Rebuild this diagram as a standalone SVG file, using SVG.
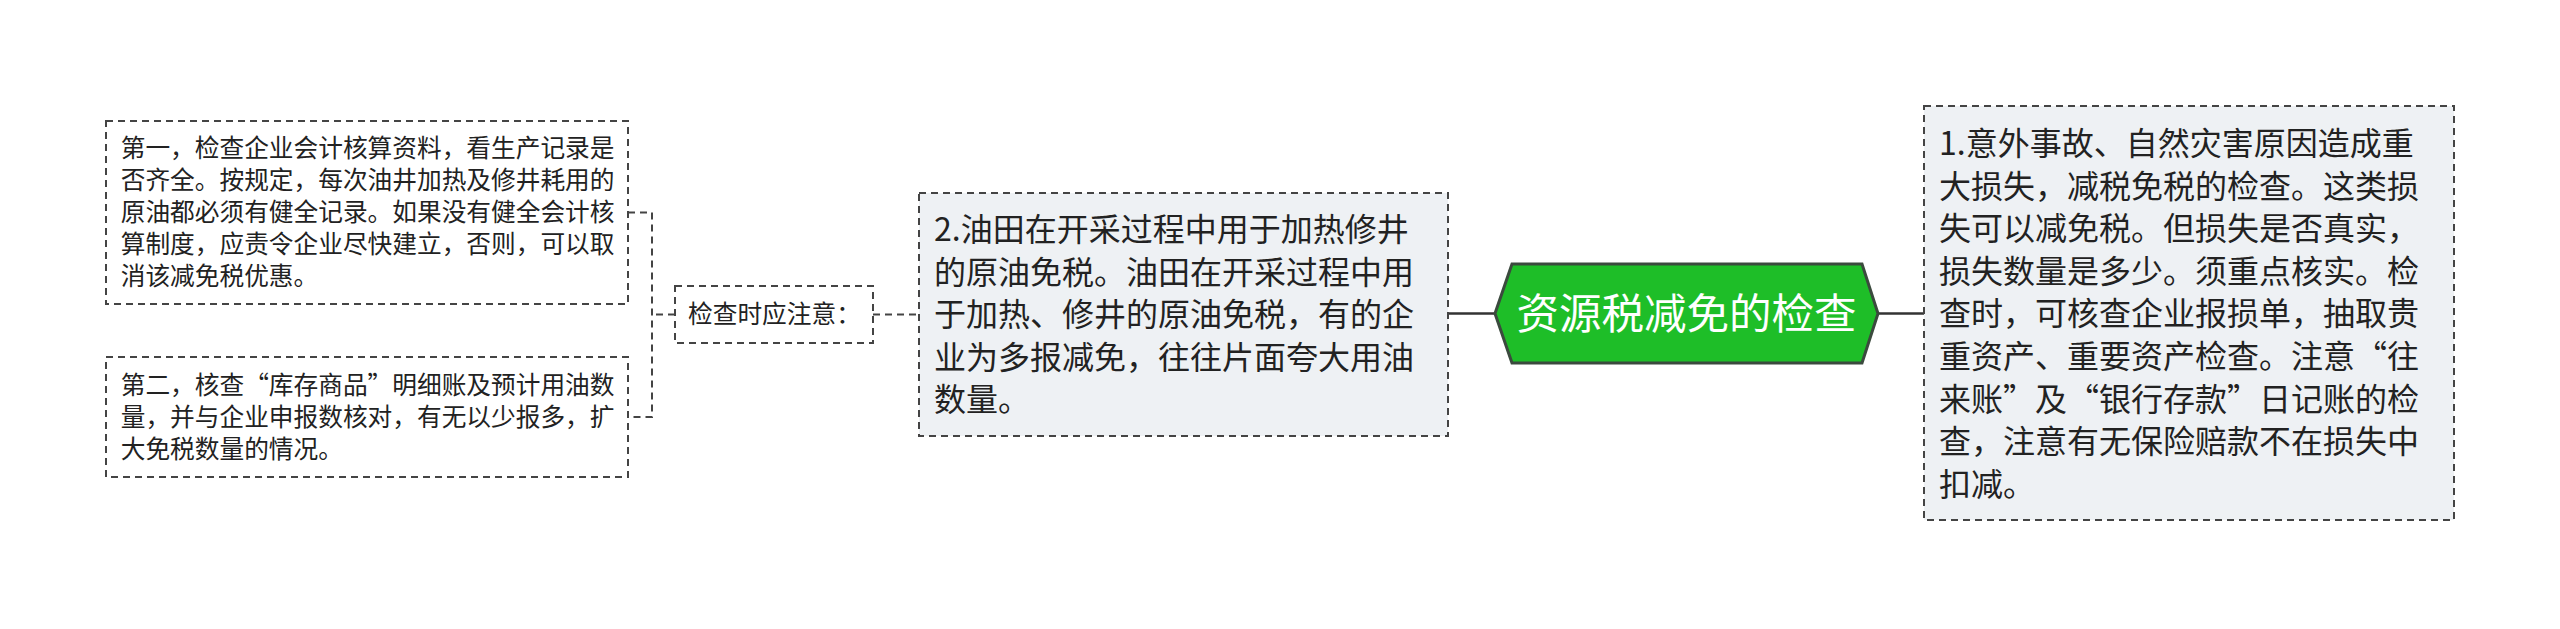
<svg xmlns="http://www.w3.org/2000/svg" width="2560" height="629" viewBox="0 0 2560 629">
<style>
.t{font-family:"Noto Sans CJK SC","Noto Sans",sans-serif;fill:#222;}
.big{font-size:32px;}
.sm{font-size:24.7px;}
.box{stroke:#444;stroke-width:2;stroke-dasharray:7 5;}
.dash{fill:none;stroke:#444;stroke-width:2;stroke-dasharray:7 5;}
.solid{fill:none;stroke:#333;stroke-width:2.5;}
</style>
<rect width="2560" height="629" fill="#fff"/>
<g id="connectors">
<line class="solid" x1="1448" y1="313.5" x2="1495" y2="313.5"/>
<line class="solid" x1="1878" y1="313.5" x2="1924" y2="313.5"/>
<line class="dash" x1="873" y1="314.5" x2="919" y2="314.5"/>
<path class="dash" d="M675 314.5 H652 M628 212.5 H652 V417 H628"/>
</g>
<g id="center">
<polygon points="1495,313.5 1512,264 1862,264 1878,313.5 1862,363 1512,363" fill="#1ebe28" stroke="#3b4a3e" stroke-width="3"/>
<text x="1686.5" y="328.5" text-anchor="middle" font-family="Noto Sans CJK SC, sans-serif" font-size="42.5" fill="#fff">资源税减免的检查</text>
</g>
<g id="right">
<rect class="box" x="1924" y="106" width="530" height="414" fill="#eef1f4"/>
<text class="t big" x="1939" y="155">1.意外事故、自然灾害原因造成重</text>
<text class="t big" x="1939" y="197.6">大损失，减税免税的检查。这类损</text>
<text class="t big" x="1939" y="240.2">失可以减免税。但损失是否真实，</text>
<text class="t big" x="1939" y="282.8">损失数量是多少。须重点核实。检</text>
<text class="t big" x="1939" y="325.4">查时，可核查企业报损单，抽取贵</text>
<text class="t big" x="1939" y="368">重资产、重要资产检查。注意“往</text>
<text class="t big" x="1939" y="410.6">来账”及“银行存款”日记账的检</text>
<text class="t big" x="1939" y="453.2">查，注意有无保险赔款不在损失中</text>
<text class="t big" x="1939" y="495.8">扣减。</text>
</g>
<g id="node2">
<rect class="box" x="919" y="193" width="529" height="243" fill="#eef1f4"/>
<text class="t big" x="934" y="241">2.油田在开采过程中用于加热修井</text>
<text class="t big" x="934" y="283.6">的原油免税。油田在开采过程中用</text>
<text class="t big" x="934" y="326.2">于加热、修井的原油免税，有的企</text>
<text class="t big" x="934" y="368.8">业为多报减免，往往片面夸大用油</text>
<text class="t big" x="934" y="411.4">数量。</text>
</g>
<g id="note">
<rect class="box" x="675" y="286" width="198" height="57" fill="#fff"/>
<text class="t sm" x="688" y="323">检查时应注意：</text>
</g>
<g id="left1">
<rect class="box" x="106" y="121" width="522" height="183" fill="#fff"/>
<text class="t sm" x="120.7" y="156.5">第一，检查企业会计核算资料，看生产记录是</text>
<text class="t sm" x="120.7" y="188.5">否齐全。按规定，每次油井加热及修井耗用的</text>
<text class="t sm" x="120.7" y="220.5">原油都必须有健全记录。如果没有健全会计核</text>
<text class="t sm" x="120.7" y="252.5">算制度，应责令企业尽快建立，否则，可以取</text>
<text class="t sm" x="120.7" y="284.5">消该减免税优惠。</text>
</g>
<g id="left2">
<rect class="box" x="106" y="357" width="522" height="120" fill="#fff"/>
<text class="t sm" x="120.7" y="393.5">第二，核查“库存商品”明细账及预计用油数</text>
<text class="t sm" x="120.7" y="425.5">量，并与企业申报数核对，有无以少报多，扩</text>
<text class="t sm" x="120.7" y="457.5">大免税数量的情况。</text>
</g>
</svg>
